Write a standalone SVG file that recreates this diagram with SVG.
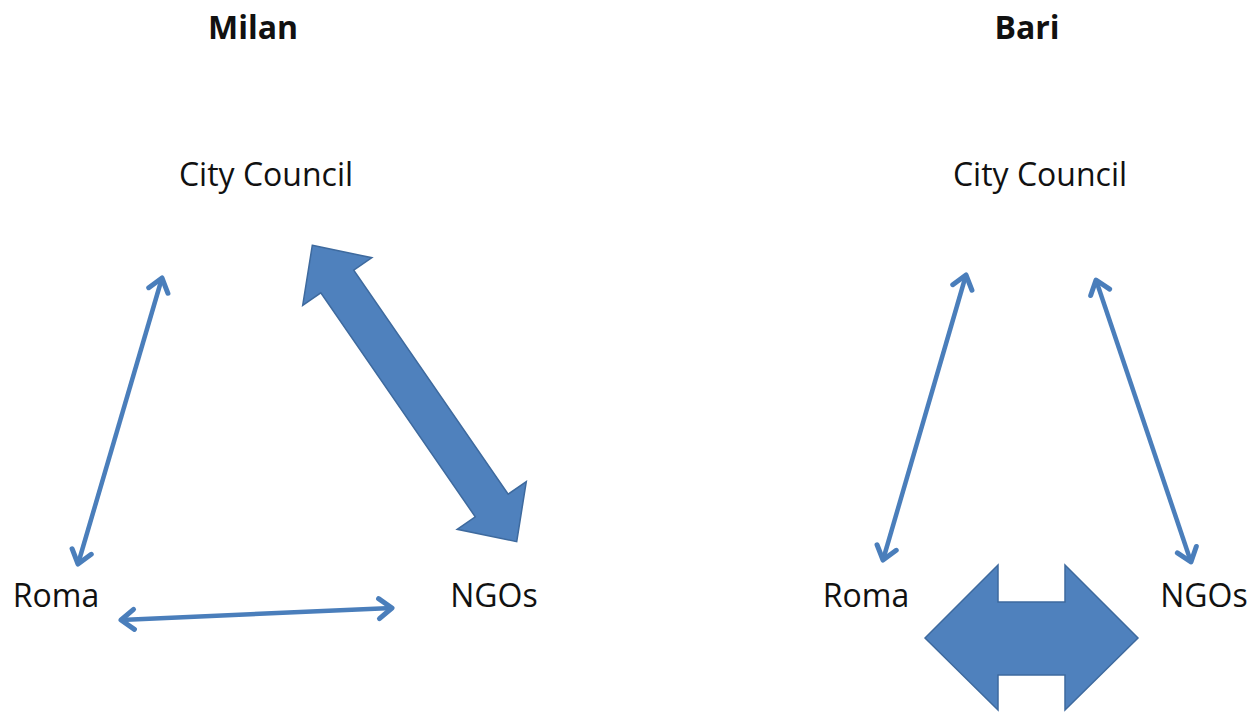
<svg xmlns="http://www.w3.org/2000/svg" width="1260" height="712" viewBox="0 0 1260 712">
  <style>
    .title { font-family: "Open Sans", "Liberation Sans", sans-serif; font-size: 32px; font-weight: bold; fill: #111; text-anchor: middle; }
    .label { font-family: "Open Sans", "Liberation Sans", sans-serif; font-size: 32px; fill: #111; text-anchor: middle; }
    .thin { stroke: #4A7EBB; stroke-width: 4.5; fill: none; marker-start: url(#open); marker-end: url(#open); }
    .block { fill: #4F81BD; stroke: #3E6A9E; stroke-width: 1.5; stroke-linejoin: miter; }
  </style>
  <defs>
    <marker id="open" markerUnits="userSpaceOnUse" markerWidth="30" markerHeight="30" viewBox="-22 -15 30 30" refX="0" refY="0" orient="auto-start-reverse">
      <path d="M-13,-10 L0,0 L-13,10" fill="none" stroke="#4A7EBB" stroke-width="5" stroke-linecap="round" stroke-linejoin="round"/>
    </marker>
  </defs>
  <rect width="1260" height="712" fill="#ffffff"/>

  <g id="title-milan"><text class="title" x="253" y="39">Milan</text></g>
  <g id="title-bari"><text class="title" x="1027" y="39">Bari</text></g>

  <g id="milan-city-council"><text class="label" x="266" y="186">City Council</text></g>
  <g id="milan-roma"><text class="label" x="56" y="607">Roma</text></g>
  <g id="milan-ngos"><text class="label" x="494" y="607">NGOs</text></g>

  <g id="bari-city-council"><text class="label" x="1040" y="186">City Council</text></g>
  <g id="bari-roma"><text class="label" x="866" y="607">Roma</text></g>
  <g id="bari-ngos"><text class="label" x="1204" y="607">NGOs</text></g>

  <g id="connectors">
    <line class="thin" x1="162" y1="278" x2="78" y2="564"/>
    <line class="thin" x1="121" y1="620" x2="392" y2="608"/>
    <polygon class="block" transform="translate(414.5 393.5) rotate(55.4)" points="-180,0 -136,-42 -136,-20 136,-20 136,-42 180,0 136,42 136,20 -136,20 -136,42"/>
    <line class="thin" x1="966" y1="275" x2="883" y2="560"/>
    <line class="thin" x1="1096" y1="280" x2="1191" y2="562"/>
    <polygon class="block" points="925,638 998,565 998,602 1065,602 1065,565 1138,638 1065,710 1065,675 998,675 998,710"/>
  </g>
</svg>
